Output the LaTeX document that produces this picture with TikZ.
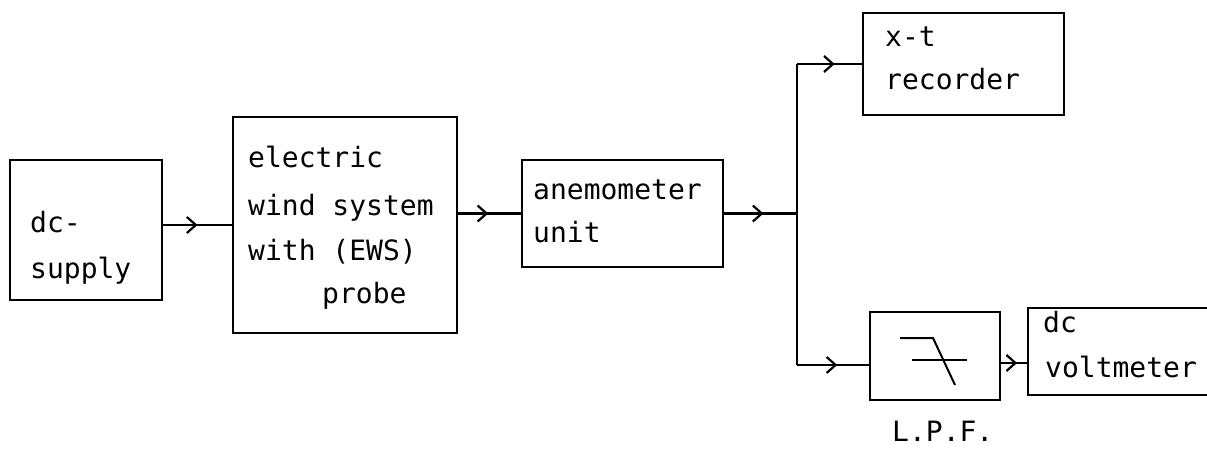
\documentclass[tikz,border=0pt]{standalone}
\usepackage{fontspec}
\setmonofont{DejaVu Sans Mono}
\usetikzlibrary{arrows.meta,decorations.markings}
\begin{document}
\begin{tikzpicture}[x=1pt,y=-1pt,
  box/.style={draw,line width=2.2pt,rectangle,inner sep=0pt},
  lbl/.style={anchor=base west,inner sep=0pt,font=\ttfamily\fontsize{28}{32}\selectfont},
  wire/.style={line width=2.2pt},
  midarrow/.style={decoration={markings,mark=at position #1 with {\arrow{Straight Barb[length=9pt,width=16pt,line width=2.2pt]}}},postaction={decorate}}]
\path[use as bounding box] (0,0) rectangle (1207,449);
\clip (0,0) rectangle (1207,449);
% boxes
\node[box,minimum width=152pt,minimum height=140pt] (dc) at (86,230) {};
\node[box,minimum width=224pt,minimum height=216pt] (ews) at (345,225) {};
\node[box,minimum width=201pt,minimum height=107pt] (anem) at (622.5,213.5) {};
\node[box,minimum width=201pt,minimum height=102pt] (xt) at (963.5,64) {};
\node[box,minimum width=130pt,minimum height=88pt] (lpf) at (935,356) {};
\node[box,minimum width=212pt,minimum height=87pt] (vm) at (1134,351.5) {};
% labels
\node[lbl] (t1) at (30,233) {dc-};
\node[lbl] (t2) at (30,278) {supply};
\node[lbl] (t3) at (248,168) {electric};
\node[lbl] (t4) at (248,215) {wind system};
\node[lbl] (t5) at (248,260) {with (EWS)};
\node[lbl] (t6) at (322,303) {probe};
\node[lbl] (t7) at (533,200) {anemometer};
\node[lbl] (t8) at (533,243) {unit};
\node[lbl] (t9) at (885,47) {x-t};
\node[lbl] (t10) at (885,90) {recorder};
\node[lbl] (t11) at (1043,332) {dc};
\node[lbl] (t12) at (1045,377) {voltmeter};
\node[lbl] (t13) at (892,441) {L.P.F.};
% filter symbol
\draw[line width=2pt] (900,338) -- (933,338) -- (955,385);
\draw[line width=2pt] (912,360) -- (967,360);
% connectors
\coordinate (j) at (797,213.5);
\coordinate (lin) at ([yshift=-9pt]lpf.west);
\coordinate (lout) at ([yshift=-7pt]lpf.east);
\draw[wire,midarrow=0.5] (dc.east |- ews.west) -- (ews.west);
\draw[wire,midarrow=0.48] (ews.east |- anem.west) -- (anem.west);
\draw[wire,midarrow=0.54] (anem.east) -- (j);
\draw[wire] (j) -- (j |- xt.west);
\draw[wire,midarrow=0.58] (j |- xt.west) -- (xt.west);
\draw[wire] (j) -- (j |- lin);
\draw[wire,midarrow=0.56] (j |- lin) -- (lin);
\draw[wire,midarrow=0.62] (lout) -- (vm.west |- lout);
\end{tikzpicture}
\end{document}
